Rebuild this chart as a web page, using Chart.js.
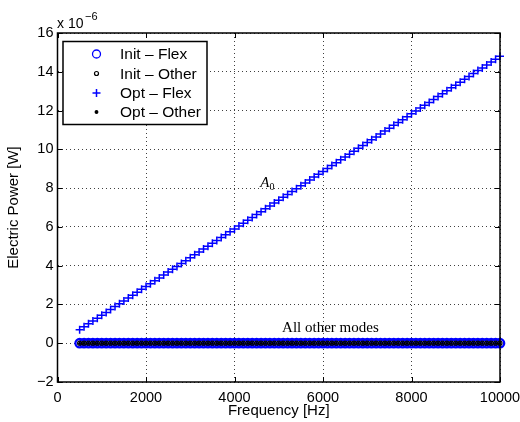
<!DOCTYPE html>
<html><head><meta charset="utf-8">
<script src="https://cdn.jsdelivr.net/npm/chart.js@4/dist/chart.umd.min.js"></script>
<style>html,body{margin:0;padding:0;background:#fff}canvas{display:block}</style>
</head><body>
<canvas id="c" width="520" height="422"></canvas>
<script>
// Frequency [Hz]
const frequencies = [500,600,700,800,900,1000,1100,1200,1300,1400,1500,1600,1700,1800,1900,2000,
2100,2200,2300,2400,2500,2600,2700,2800,2900,3000,3100,3200,3300,3400,3500,3600,3700,3800,3900,4000,
4100,4200,4300,4400,4500,4600,4700,4800,4900,5000,5100,5200,5300,5400,5500,5600,5700,5800,5900,6000,
6100,6200,6300,6400,6500,6600,6700,6800,6900,7000,7100,7200,7300,7400,7500,7600,7700,7800,7900,8000,
8100,8200,8300,8400,8500,8600,8700,8800,8900,9000,9100,9200,9300,9400,9500,9600,9700,9800,9900,10000];

// Electric power, in units of 10^-6 W
const optFlexPower = [0.70,0.85,1.00,1.15,1.29,1.44,1.59,1.74,1.89,2.04,2.18,2.33,2.48,2.63,2.78,2.93,
3.07,3.22,3.37,3.52,3.67,3.82,3.96,4.11,4.26,4.41,4.56,4.71,4.86,5.00,5.15,5.30,5.45,5.60,5.75,5.89,
6.04,6.19,6.34,6.49,6.64,6.78,6.93,7.08,7.23,7.38,7.53,7.67,7.82,7.97,8.12,8.27,8.42,8.57,8.71,8.86,
9.01,9.16,9.31,9.46,9.60,9.75,9.90,10.05,10.20,10.35,10.49,10.64,10.79,10.94,11.09,11.24,11.38,11.53,11.68,11.83,
11.98,12.13,12.28,12.42,12.57,12.72,12.87,13.02,13.17,13.31,13.46,13.61,13.76,13.91,14.06,14.20,14.35,14.50,14.65,14.80];

const initFlexPower = [0,0,0,0,0,0,0,0,0,0,0,0,0,0,0,0,0,0,0,0,0,0,0,0,
0,0,0,0,0,0,0,0,0,0,0,0,0,0,0,0,0,0,0,0,0,0,0,0,
0,0,0,0,0,0,0,0,0,0,0,0,0,0,0,0,0,0,0,0,0,0,0,0,
0,0,0,0,0,0,0,0,0,0,0,0,0,0,0,0,0,0,0,0,0,0,0,0];
const initOtherPower = [0,0,0,0,0,0,0,0,0,0,0,0,0,0,0,0,0,0,0,0,0,0,0,0,
0,0,0,0,0,0,0,0,0,0,0,0,0,0,0,0,0,0,0,0,0,0,0,0,
0,0,0,0,0,0,0,0,0,0,0,0,0,0,0,0,0,0,0,0,0,0,0,0,
0,0,0,0,0,0,0,0,0,0,0,0,0,0,0,0,0,0,0,0,0,0,0,0];
const optOtherPower = [0,0,0,0,0,0,0,0,0,0,0,0,0,0,0,0,0,0,0,0,0,0,0,0,
0,0,0,0,0,0,0,0,0,0,0,0,0,0,0,0,0,0,0,0,0,0,0,0,
0,0,0,0,0,0,0,0,0,0,0,0,0,0,0,0,0,0,0,0,0,0,0,0,
0,0,0,0,0,0,0,0,0,0,0,0,0,0,0,0,0,0,0,0,0,0,0,0];

const seriesNames = ['Init \u2013 Flex','Init \u2013 Other','Opt \u2013 Flex','Opt \u2013 Other'];
const xTicks = [0,2000,4000,6000,8000,10000];
const yTicks = [-2,0,2,4,6,8,10,12,14,16];

const SANS = '"Liberation Sans", Arial, Helvetica, sans-serif';
const SERIF = '"Liberation Serif", "Times New Roman", serif';

function pts(ys){ return frequencies.map((f,i)=>({x:f,y:ys[i]})); }

const styles = [
  {pointStyle:'circle', pointRadius:4.2, borderColor:'#0000ff', backgroundColor:'rgba(0,0,0,0)', borderWidth:2.3},
  {pointStyle:'circle', pointRadius:2, borderColor:'#000000', backgroundColor:'rgba(0,0,0,0)', borderWidth:1.2},
  {pointStyle:'cross', pointRadius:4, borderColor:'#0000ff', backgroundColor:'#0000ff', borderWidth:1.5},
  {pointStyle:'circle', pointRadius:1.2, borderColor:'#000000', backgroundColor:'#000000', borderWidth:0}
];
const seriesData = [initFlexPower, initOtherPower, optFlexPower, optOtherPower];
const drawOrder = [3,1,2,0];

const datasets = seriesNames.map((name,i)=>Object.assign({
  label:name, data:pts(seriesData[i]), showLine:false, clip:false, order:drawOrder[i],
  pointBorderColor:styles[i].borderColor, pointBackgroundColor:styles[i].backgroundColor,
  pointBorderWidth:styles[i].borderWidth
}, styles[i]));

const annotations = [
  {x:4583, y:8.07, main:'A', sub:'0'},
  {x:6168, y:0.58, main:'All other modes', center:true}
];

const overlay = {
  id:'overlay',
  afterDatasetsDraw(chart){
    const ctx = chart.ctx, a = chart.chartArea, xs = chart.scales.x, ys = chart.scales.y;
    ctx.save();
    // inward tick marks
    ctx.strokeStyle = '#000'; ctx.lineWidth = 1;
    const tl = 5;
    ctx.beginPath();
    xTicks.forEach(v=>{ const p = Math.round(xs.getPixelForValue(v))+0.5;
      ctx.moveTo(p,a.bottom); ctx.lineTo(p,a.bottom-tl);
      ctx.moveTo(p,a.top); ctx.lineTo(p,a.top+tl); });
    yTicks.forEach(v=>{ const p = Math.round(ys.getPixelForValue(v))+0.5;
      ctx.moveTo(a.left,p); ctx.lineTo(a.left+tl,p);
      ctx.moveTo(a.right,p); ctx.lineTo(a.right-tl,p); });
    ctx.stroke();
    // axes box
    ctx.lineWidth = 1.5;
    ctx.strokeRect(a.left, a.top, a.right-a.left, a.bottom-a.top);
    // multiplier
    ctx.fillStyle = '#000';
    ctx.textBaseline = 'alphabetic'; ctx.textAlign = 'left';
    ctx.font = '14px ' + SANS;
    ctx.fillText('x 10', 57, 28);
    ctx.font = '11px ' + SANS;
    ctx.fillText('\u22126', 85, 20);
    // annotations
    annotations.forEach(an=>{
      const px = xs.getPixelForValue(an.x), py = ys.getPixelForValue(an.y);
      if (an.sub){
        ctx.font = 'italic 15px ' + SERIF;
        ctx.textAlign='left';
        ctx.fillText(an.main, px, py);
        const w = ctx.measureText(an.main).width;
        ctx.font = '10px ' + SERIF;
        ctx.fillText(an.sub, px+w, py+3);
      } else {
        ctx.font = '15px ' + SERIF;
        ctx.textAlign='center';
        ctx.fillText(an.main, px, py);
      }
    });
    // legend
    const L = {x:63, y:41.5, w:144, h:83};
    ctx.fillStyle = '#fff';
    ctx.fillRect(L.x, L.y, L.w, L.h);
    ctx.lineWidth = 1.5; ctx.strokeStyle = '#000';
    ctx.strokeRect(L.x, L.y, L.w, L.h);
    const rowsY = [54, 73.5, 93, 112];
    seriesNames.forEach((name,i)=>{
      const st = styles[i];
      ctx.save();
      ctx.strokeStyle = st.borderColor; ctx.fillStyle = st.backgroundColor;
      ctx.lineWidth = i===0 ? 1.3 : st.borderWidth;
      Chart.helpers.drawPoint(ctx, {pointStyle:st.pointStyle, radius:i===0?4:st.pointRadius, borderWidth:ctx.lineWidth, rotation:0}, 96.5, rowsY[i]);
      ctx.restore();
      ctx.fillStyle = '#000'; ctx.textAlign='left'; ctx.textBaseline='middle';
      ctx.font = '15.5px ' + SANS;
      ctx.fillText(name, 120, rowsY[i]+1);
    });
    ctx.restore();
  }
};

new Chart(document.getElementById('c'), {
  type:'scatter',
  data:{datasets},
  options:{
    responsive:false, animation:false, devicePixelRatio:1,
    layout:{padding:{left:0, top:33, right:20, bottom:0}},
    plugins:{legend:{display:false}, tooltip:{enabled:false}},
    scales:{
      x:{type:'linear', min:0, max:10000,
        afterBuildTicks:s=>{ s.ticks = xTicks.map(v=>({value:v})); },
        afterFit:s=>{ s.height = 40; s.paddingLeft = 0; s.paddingRight = 0; },
        grid:{color:'rgba(0,0,0,0.75)', lineWidth:1, drawTicks:false, tickLength:0},
        border:{display:false, dash:[1,3]},
        ticks:{color:'#000', padding:7, maxRotation:0, autoSkip:false,
          font:{family:SANS, size:14.5}, callback:v=>String(v)},
        title:{display:true, text:'Frequency [Hz]', color:'#000', font:{family:SANS, size:15}, padding:{top:0,bottom:2}}
      },
      y:{type:'linear', min:-2, max:16,
        afterBuildTicks:s=>{ s.ticks = yTicks.map(v=>({value:v})); },
        afterFit:s=>{ s.width = 57.5; s.paddingTop = 0; s.paddingBottom = 0; },
        grid:{color:'rgba(0,0,0,0.75)', lineWidth:1, drawTicks:false, tickLength:0},
        border:{display:false, dash:[1,3]},
        ticks:{color:'#000', padding:4, autoSkip:false,
          font:{family:SANS, size:14.5}, callback:v=>String(v).replace('-', '\u2212')},
        title:{display:true, text:'Electric Power [W]', color:'#000', font:{family:SANS, size:15}, padding:{top:5,bottom:0}}
      }
    }
  },
  plugins:[overlay]
});
</script>
</body></html>
